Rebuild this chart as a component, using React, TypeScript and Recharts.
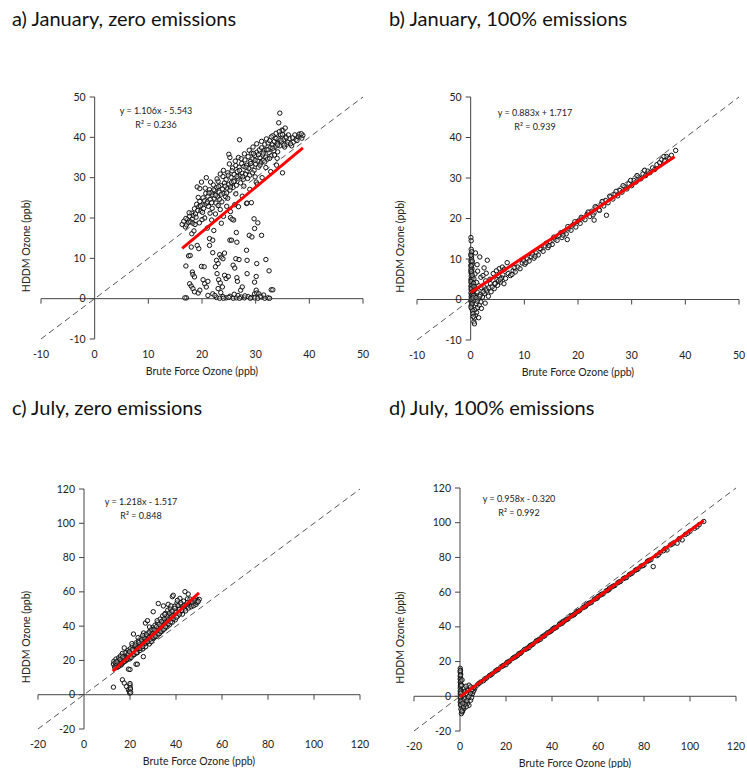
import { ScatterChart, Scatter, XAxis, YAxis, ReferenceLine } from "recharts";

type Pt = [number, number];

const titles = [
  "a) January, zero emissions",
  "b) January, 100% emissions",
  "c) July, zero emissions",
  "d) July, 100% emissions",
];

const janTicks = [-10, 0, 10, 20, 30, 40, 50];
const julTicks = [-20, 0, 20, 40, 60, 80, 100, 120];

// regression fits: slope, intercept, x range of the red line
const slopes = [1.106, 0.883, 1.218, 0.958];
const intercepts = [-5.543, 1.717, -1.517, -0.32];
const fitStart = [16.3, 0, 12.5, 0];
const fitEnd = [38.8, 38, 50, 106];
const eqLabels = ["y = 1.106x - 5.543", "y = 0.883x + 1.717", "y = 1.218x - 1.517", "y = 0.958x - 0.320"];
const r2Labels = ["R² = 0.236", "R² = 0.939", "R² = 0.848", "R² = 0.992"];

// a) January, zero emissions
const janZeroBand: Pt[] = [
  [16.3,18.4],[16.6,19.2],[16.9,17.8],[17.1,18.3],[17.3,19.6],[17.5,18.9],[17.7,20.4],[17.9,19.1],[18.1,21.2],[18.2,19.8],
  [18.4,20.6],[18.6,22.3],[18.8,21.0],[19.0,23.4],[19.1,27.7],[19.2,21.9],[19.4,22.8],[19.6,27.3],[19.6,24.1],[19.8,21.7],
  [19.9,28.9],[20.0,23.2],[20.2,25.0],[20.3,22.4],[20.5,24.3],[20.7,26.1],[20.8,30.0],[20.9,23.6],[21.1,25.4],[21.2,22.9],
  [21.4,27.0],[21.5,24.6],[21.7,26.3],[21.8,23.8],[22.0,25.7],[22.1,28.2],[22.3,24.9],[22.4,26.8],[22.6,23.7],[22.7,27.5],
  [22.9,25.2],[23.0,29.1],[23.2,26.4],[23.3,24.6],[23.5,28.0],[23.6,25.9],[23.8,27.2],[23.9,30.3],[24.1,26.1],[24.2,28.7],
  [24.4,25.3],[24.5,29.5],[24.7,27.4],[24.8,31.2],[25.0,35.8],[25.0,28.3],[25.2,35.0],[25.2,26.9],[25.4,30.1],[25.5,28.8],
  [25.7,32.4],[25.8,27.6],[26.0,30.8],[26.1,29.2],[26.3,33.0],[26.4,28.1],[26.6,31.5],[26.7,29.9],[26.9,32.6],[27.0,39.4],
  [27.1,30.4],[27.2,28.7],[27.4,33.5],[27.5,31.1],[27.7,29.6],[27.8,32.8],[28.0,34.4],[28.1,30.9],[28.3,33.1],[28.4,31.7],
  [28.6,35.2],[28.7,32.3],[28.9,30.6],[29.0,34.0],[29.2,36.1],[29.3,32.9],[29.5,37.6],[29.5,34.7],[29.7,31.8],[29.8,35.5],
  [30.0,33.4],[30.1,28.9],[30.2,36.3],[30.4,34.1],[30.5,32.6],[30.7,36.9],[30.8,35.0],[31.0,33.7],[31.1,37.4],[31.3,35.6],
  [31.4,34.2],[31.6,36.8],[31.7,38.3],[31.9,35.1],[32.0,37.0],[32.2,34.6],[32.3,38.6],[32.5,36.2],[32.6,39.2],[32.8,37.5],
  [32.9,35.4],[33.1,38.1],[33.2,40.4],[33.4,36.7],[33.5,39.0],[33.7,37.8],[33.8,41.0],[34.0,38.5],[34.1,36.4],[34.3,43.6],
  [34.3,39.6],[34.5,46.0],[34.5,37.9],[34.6,40.7],[34.8,38.9],[34.9,41.8],[35.0,31.2],[35.1,41.7],[35.2,39.4],[35.4,37.6],
  [35.6,40.2],[35.8,38.3],[36.0,38.8],[36.3,39.7],[36.7,37.9],[37.0,38.8],[37.5,39.5],[37.9,40.1],[38.3,40.3],[38.6,39.8],
  [38.8,40.5],[20.5,20.0],[21.8,19.5],[22.5,21.0],[23.4,22.1],[24.0,20.4],[24.6,22.9],[25.3,21.6],[26.1,23.3],[26.8,22.8],
  [25.9,19.5],[23.6,18.7],[21.0,17.5],[22.2,16.9],[19.5,18.8],[27.5,25.4],[28.9,27.1],[30.3,28.4],[31.2,30.0],[32.8,31.5],
  [33.9,33.1],[28.3,23.6],[28.4,23.7],[29.2,23.8],
  [17.0,19.9],[17.6,21.3],[18.3,18.7],[18.9,20.2],[19.3,25.1],[19.7,23.0],[20.1,21.4],[20.6,27.4],[21.0,24.0],[21.3,26.2],
  [21.6,28.9],[21.9,22.4],[22.2,27.0],[22.5,25.6],[22.8,29.7],[23.1,27.8],[23.4,30.9],[23.7,24.0],[24.0,31.8],[24.3,27.9],
  [24.6,26.2],[24.9,30.6],[25.1,33.4],[25.3,27.7],[25.6,31.7],[25.9,29.0],[26.2,34.1],[26.5,30.3],[26.8,35.0],[27.0,31.8],
  [27.3,34.7],[27.6,30.2],[27.9,35.9],[28.2,32.6],[28.5,29.8],[28.8,36.8],[29.1,33.5],[29.4,31.2],[29.6,36.0],[29.9,34.3],
  [30.2,38.4],[30.5,35.7],[30.8,33.1],[31.1,39.0],[31.4,36.1],[31.7,33.9],[32.0,39.6],[32.3,36.9],[32.6,34.8],[32.9,40.1],
  [33.2,37.3],[33.5,35.6],[33.8,39.7],[34.1,38.1],[34.4,41.4],[34.7,39.3],[35.0,40.7],[35.3,38.1],[35.5,42.3],[35.7,39.9],
  [36.1,40.6],[36.5,38.4],[36.9,39.9],[37.3,40.6],[37.7,39.2],[38.1,40.8],[38.5,40.9],[34.0,34.8],[31.9,32.5],[29.9,30.2],
  [27.8,27.9],[26.3,26.0],[24.8,24.9],[23.0,23.1],[21.5,21.2],[20.0,19.6],[18.7,18.4],
];
const janZeroLow: Pt[] = [
  [17.1,0.2],[16.8,0.2],[17.0,8.1],[17.5,10.6],[17.8,10.7],[18.0,12.8],[18.1,16.1],[18.5,16.8],[18.2,6.6],[18.3,6.0],
  [18.6,5.4],[17.7,3.7],[18.0,3.1],[18.3,2.5],[18.6,1.7],[19.3,1.4],[19.6,2.1],[19.1,13.2],[19.4,12.4],[19.9,8.0],
  [20.4,7.9],[20.2,4.7],[20.5,3.7],[20.8,2.9],[21.1,4.3],[21.4,14.9],[22.0,14.5],[21.4,13.2],[21.1,0.8],[22.0,11.4],
  [22.5,7.9],[22.8,6.2],[22.7,9.5],[23.0,8.7],[23.3,10.9],[23.6,10.3],[23.9,9.9],[23.1,4.7],[23.4,3.9],[23.0,2.5],
  [23.8,2.9],[24.2,11.3],[24.2,5.8],[24.5,5.0],[24.9,5.5],[25.2,14.5],[25.5,14.5],[25.3,20.1],[25.6,19.7],[25.8,8.3],
  [26.1,7.6],[26.3,9.9],[26.4,16.4],[26.5,14.0],[26.6,4.3],[26.9,9.7],[26.5,5.2],[27.2,2.1],[27.5,2.9],[28.3,12.0],
  [28.4,9.5],[28.4,6.2],[28.8,15.7],[29.3,15.3],[29.7,19.8],[29.8,17.4],[30.4,18.8],[31.1,15.7],[30.2,8.7],[30.1,5.5],
  [29.8,4.1],[30.1,2.1],[31.9,9.7],[32.5,6.9],[32.9,2.2],[33.2,2.2],[29.8,1.2],[30.2,1.4],[30.6,1.2],[22.7,0.3],
  [23.3,0.1],[23.9,0.5],[24.5,0.2],[25.2,0.6],[25.8,0.1],[26.4,0.2],[26.7,0.8],[27.3,0.4],[27.9,0.2],[28.6,0.5],
  [29.2,0.3],[29.8,0.2],[30.4,0.1],[31.1,0.4],[31.7,0.1],[32.3,0.2],[32.6,0.1],[22.0,1.2],[22.4,0.8],[24.0,0.1],
  [25.0,0.3],[27.0,0.1],[28.0,0.7],[29.0,0.1],[30.9,0.6],[23.5,1.5],[26.0,1.1],[31.5,0.9],
];

// b) January, 100% emissions
const janFullNear: Pt[] = [
  [0.05,15.3],[0.1,14.5],[0.05,11.2],[0.15,10.6],[0.1,9.8],[0.2,9.1],[0.05,8.5],[0.1,8.0],[0.25,7.6],[0.1,7.1],
  [0.05,6.7],[0.2,6.3],[0.1,5.8],[0.3,5.4],[0.05,5.0],[0.15,4.6],[0.1,4.1],[0.25,3.7],[0.05,3.3],[0.2,2.9],
  [0.1,2.4],[0.3,2.0],[0.05,1.6],[0.15,1.1],[0.1,0.7],[0.2,0.3],[0.05,-0.2],[0.3,-0.8],[0.1,-1.5],[0.2,-2.3],
  [0.15,10.2],[0.3,8.7],[0.05,7.4],[0.2,4.9],[0.35,3.1],[0.1,-0.6],[0.25,1.3],[0.05,9.4],
  [0.6,-5.5],[0.7,-4.6],[0.9,-3.9],[1.1,-3.2],[0.8,-2.5],[1.3,-2.0],[1.6,-1.4],[1.0,-1.0],[1.9,-0.6],[0.5,-0.3],
  [1.4,0.2],[2.2,0.6],[0.7,0.9],[1.8,1.2],[2.6,1.5],[1.2,1.9],[3.0,2.1],[0.9,2.6],[2.0,2.9],[2.5,3.1],
  [1.5,3.4],[3.7,3.9],[5.0,3.5],[5.6,4.3],[6.2,3.9],[1.1,4.2],[2.8,4.6],[0.6,5.1],[1.9,5.5],[4.2,6.4],
  [5.3,7.6],[5.9,8.0],[6.8,9.1],[2.5,7.8],[0.9,11.5],[1.7,10.5],[3.1,9.7],[1.3,7.0],[2.3,5.9],[0.8,6.3],
  [1.5,-4.5],[2.0,-2.2],[2.7,-0.9],[3.3,0.8],[3.8,1.9],[4.4,2.7],[4.9,4.9],[0.7,-6.0],[1.2,8.6],
  [0.1,12.4],[0.2,11.8],[0.05,10.9],[0.3,9.5],[0.1,8.3],[0.15,6.9],[0.3,6.0],[0.05,4.4],[0.2,3.5],[0.1,2.7],
  [0.35,1.8],[0.1,0.1],[0.25,-1.1],[0.05,-1.9],[0.4,-2.8],[0.45,-3.5],[0.5,-4.2],[0.55,4.0],[0.6,3.2],[0.65,2.3],
  [0.5,1.0],[0.45,0.4],[1.0,0.5],[1.2,-0.4],[1.7,0.8],[2.3,1.9],[2.9,2.6],[3.4,2.9],[4.0,3.1],[4.6,4.0],
  [5.2,4.6],[5.8,5.4],[3.6,5.0],[2.9,6.5],[4.8,7.1],[6.3,7.5],
];
const janFullLine: Pt[] = [
  [6.5,5.2],[7.0,6.4],[7.4,5.9],[7.9,7.1],[8.3,6.8],[8.8,8.0],[9.2,7.6],[9.6,9.0],[10.1,8.7],[10.5,10.0],
  [10.9,9.5],[11.3,10.6],[11.8,10.2],[12.2,11.5],[12.6,11.0],[13.1,12.4],[13.5,11.9],[13.9,13.2],[14.4,12.8],[14.8,14.1],
  [15.2,13.6],[15.7,14.9],[16.1,14.6],[16.5,15.8],[17.0,15.3],[17.4,16.7],[17.8,16.2],[18.0,14.8],[18.3,17.5],[18.7,17.1],
  [19.1,18.4],[19.6,17.9],[20.0,19.3],[20.4,18.8],[20.9,20.1],[21.3,19.7],[21.7,21.0],[22.2,20.5],[22.6,21.8],[23.0,19.6],
  [23.0,21.4],[23.5,22.7],[23.9,22.2],[24.3,23.5],[24.8,23.1],[25.2,24.4],[25.3,20.8],[25.6,23.9],[26.1,25.3],[26.5,24.8],
  [26.9,26.0],[27.4,25.6],[27.8,26.9],[28.2,26.5],[28.7,27.8],[29.1,27.3],[29.5,28.6],[30.0,28.1],[30.4,29.4],[30.8,29.0],
  [31.3,30.2],[31.7,29.8],[32.1,31.0],[32.6,30.6],[33.0,31.7],[33.4,31.3],[33.9,32.5],[34.3,32.1],[34.7,33.3],[35.2,33.8],
  [35.6,34.5],[36.1,34.2],[36.5,35.3],[37.0,34.9],[37.4,35.6],[38.2,36.8],[36.0,35.3],
  [8.1,7.9],[9.9,9.6],[11.5,11.2],[12.9,12.6],[14.1,13.9],[15.5,15.4],[16.8,16.5],[18.1,18.0],[19.4,19.2],[20.6,20.3],
  [21.9,21.6],[23.2,22.9],[24.5,24.2],[25.9,25.5],[27.1,26.7],[28.4,28.1],[29.8,29.4],[31.0,30.6],[32.4,31.9],[5.5,5.0],
  [6.0,6.1],[4.5,3.9],[7.7,6.2],[10.3,9.1],[12.0,10.7],[14.6,13.3],[17.2,15.9],[22.8,20.9],[24.0,22.0],
];

// c) July, zero emissions
const julZeroBand: Pt[] = [
  [12.8,17.9],[13.0,19.5],[13.3,16.4],[13.6,18.6],[13.9,20.8],[14.2,15.9],[14.5,17.7],[14.8,19.9],[15.1,21.6],[15.3,16.8],
  [15.6,18.9],[15.9,22.7],[16.2,17.4],[16.4,20.3],[16.7,24.1],[17.0,18.7],[17.2,21.5],[17.5,27.3],[17.7,19.6],[18.0,22.8],
  [18.3,20.4],[18.5,24.6],[18.8,21.2],[19.1,25.9],[19.3,22.0],[19.6,23.7],[19.9,20.9],[20.1,26.8],[20.4,22.5],[20.7,24.9],
  [21.0,28.6],[21.2,23.1],[21.5,35.4],[21.5,26.0],[21.8,24.3],[22.1,27.9],[22.3,25.1],[22.6,30.2],[22.9,26.4],[23.2,24.6],
  [23.4,28.8],[23.7,31.5],[24.0,27.1],[24.3,25.8],[24.5,29.7],[24.8,33.1],[25.1,28.2],[25.4,30.9],[25.6,26.7],[25.9,36.0],
  [26.2,29.4],[26.5,32.6],[26.7,41.8],[26.8,28.0],[27.0,34.1],[27.3,30.5],[27.6,43.2],[27.9,31.8],[28.1,35.7],[28.4,29.6],
  [28.7,33.9],[29.0,37.4],[29.2,31.0],[29.5,34.8],[29.8,39.2],[30.1,48.4],[30.1,32.7],[30.3,36.5],[30.6,33.4],[30.9,40.6],
  [31.2,35.3],[31.4,37.9],[31.7,34.1],[32.0,42.0],[32.3,53.2],[32.3,36.8],[32.5,39.5],[32.8,35.6],[33.1,44.1],[33.4,38.2],
  [33.6,41.3],[33.9,37.0],[34.2,46.0],[34.5,51.8],[34.5,39.8],[34.7,42.9],[35.0,38.4],[35.3,47.4],[35.6,41.1],[35.8,44.5],
  [36.1,39.6],[36.4,49.3],[36.6,52.7],[36.7,42.6],[37.0,46.1],[37.2,40.8],[37.5,50.2],[37.8,44.0],[38.1,47.5],[38.4,57.2],
  [38.4,42.3],[38.8,58.0],[38.7,49.0],[39.0,45.1],[39.4,51.6],[39.7,43.7],[40.0,47.9],[40.4,53.5],[40.8,45.9],[41.2,50.4],
  [41.7,56.2],[41.9,48.2],[42.3,52.8],[42.8,47.0],[43.3,54.6],[43.9,60.1],[43.9,50.0],[44.6,51.4],[45.0,55.9],[45.3,58.7],
  [45.7,52.6],[46.3,54.0],[46.8,52.3],[47.4,55.2],[47.9,53.4],[48.5,56.1],[48.9,54.3],[49.4,55.0],[50.1,55.6],
  [14.0,17.0],[16.0,19.2],[18.2,21.5],[20.3,24.0],[22.4,26.8],[24.6,28.6],[26.3,31.0],[28.0,33.2],[29.7,35.4],[31.5,37.2],
  [33.2,39.6],[34.9,41.5],[36.5,43.9],[38.2,46.0],[39.9,48.4],[41.5,49.7],[43.1,51.8],[19.0,23.1],[23.0,27.5],[27.2,32.1],
  [31.0,36.6],[35.5,42.4],[37.9,45.3],[25.3,29.9],[21.4,25.6],[17.3,20.9],[15.4,18.2],
  [13.5,15.6],[14.3,19.1],[14.9,16.4],[15.7,20.7],[16.3,18.3],[16.9,22.1],[17.4,19.3],[17.9,24.5],[18.6,20.5],[19.2,23.8],
  [19.8,25.1],[20.5,21.7],[21.1,26.3],[21.7,23.4],[22.2,29.0],[22.8,24.5],[23.3,26.9],[23.9,30.5],[24.4,27.0],[25.0,31.9],
  [25.5,28.1],[26.1,33.2],[26.6,30.1],[27.1,35.3],[27.7,30.9],[28.3,36.6],[28.8,32.4],[29.4,38.1],[29.9,33.6],[30.5,37.9],
  [31.0,34.2],[31.6,39.8],[32.2,35.5],[32.7,41.0],[33.3,36.9],[33.8,42.8],[34.4,38.0],[34.9,44.3],[35.4,39.6],[36.0,45.8],
  [36.6,41.4],[37.1,47.6],[37.7,42.5],[38.3,48.7],[38.9,44.3],[39.5,50.4],[40.2,45.2],[40.9,52.0],[41.5,47.0],[42.1,53.6],
  [42.6,49.1],[43.6,52.0],[44.2,48.9],[44.9,53.7],[45.5,50.6],[46.1,55.8],[46.6,51.3],[47.2,53.9],[47.7,51.9],[48.3,54.8],
  [48.7,52.7],[49.2,53.9],[49.7,54.4],[25.5,34.6],[28.5,39.5],[31.8,43.2],[35.1,46.8],[23.5,33.3],[20.8,29.8],[37.8,51.8],
  [40.6,55.0],
];
const julZeroLow: Pt[] = [
  [12.8,4.4],[16.7,8.7],[17.5,6.8],[18.5,4.8],[19.3,2.9],[19.7,1.9],[20.0,5.6],[20.1,4.2],[20.2,3.3],[19.9,0.9],
  [20.3,1.3],[20.0,6.5],[19.3,14.9],[20.0,14.7],[22.6,17.8],[23.2,17.8],[25.8,22.2],
];

// d) July, 100% emissions
const julFullNear: Pt[] = [
  [0.1,16.1],[0.2,15.0],[0.1,13.8],[0.3,12.7],[0.1,11.5],[0.2,10.3],[0.4,9.2],[0.1,8.1],[0.3,7.0],[0.2,5.8],
  [0.1,4.7],[0.4,3.5],[0.2,2.4],[0.1,1.3],[0.3,0.2],[0.2,-1.0],[0.5,-2.1],[0.1,-3.3],[0.3,-4.4],[0.6,-6.0],
  [0.6,-10.0],[1.0,-9.0],[1.2,-8.1],[1.7,-7.1],[0.8,-5.2],[3.9,-5.2],[4.6,-2.3],[3.2,-4.2],[5.4,1.5],[6.1,3.5],
  [3.9,6.4],[4.6,5.4],[2.5,-3.0],[2.0,-1.5],[1.5,0.8],[2.8,1.5],[3.5,-1.0],[4.2,0.5],[5.0,-0.8],[5.7,2.7],
  [6.5,4.8],[2.2,3.0],[3.0,4.3],[1.0,2.0],[1.3,-2.6],[2.7,-6.0],[4.8,3.2],
  [0.1,14.6],[0.2,12.1],[0.1,9.8],[0.3,8.6],[0.2,6.4],[0.1,3.0],[0.3,1.8],[0.2,-0.4],[0.4,-2.8],[0.2,-5.0],
  [0.4,-7.4],[0.8,-8.5],[1.5,-6.1],[2.2,-4.5],[3.0,-2.6],[3.8,-0.2],[4.5,1.8],[5.2,3.9],[6.0,5.1],[1.8,4.9],
  [2.6,5.8],[3.4,3.3],[1.2,-4.0],[0.7,6.3],[0.9,9.4],
];
const julFullLine: Pt[] = [
  [7.5,6.5],[9.0,8.2],[10.2,9.0],[11.5,10.5],[12.8,11.9],[14.0,12.9],[15.3,14.4],[16.6,15.4],[17.8,16.9],[19.1,17.9],
  [20.4,19.5],[21.6,20.3],[22.9,21.8],[24.2,22.7],[25.5,24.4],[26.7,25.3],[28.0,26.9],[29.3,27.6],[30.5,29.2],[31.8,30.1],
  [33.1,31.8],[34.3,32.5],[35.6,34.2],[36.9,34.9],[38.1,36.5],[39.4,37.4],[40.7,39.0],[42.0,39.8],[43.2,41.4],[44.5,42.2],
  [45.8,43.9],[47.0,44.6],[48.3,46.2],[49.6,47.0],[50.8,48.7],[52.1,49.5],[53.4,51.0],[54.6,51.8],[55.9,53.5],[57.2,54.2],
  [58.4,55.9],[59.7,56.6],[61.0,58.3],[62.2,59.0],[63.5,60.7],[64.8,61.5],[66.0,63.0],[67.3,63.8],[68.6,65.4],[69.8,66.2],
  [71.1,67.8],[72.4,68.4],[73.6,70.1],[74.9,71.0],[76.2,72.6],[77.4,73.3],[78.7,75.0],[80.0,75.6],[81.5,77.8],[83.0,78.7],
  [84.0,74.7],[85.5,81.0],[87.0,82.8],[88.5,83.9],[90.0,84.3],[91.5,87.2],[93.0,88.4],[94.4,88.2],[96.6,90.1],[98.0,93.2],
  [100.0,95.1],[102.0,96.8],[104.0,98.9],[106.0,100.7],
  [8.2,7.4],[10.8,10.0],[13.4,12.3],[16.0,15.1],[18.5,17.4],[21.0,19.8],[23.6,22.5],[26.1,24.6],[28.7,27.2],[31.2,29.6],
  [33.7,32.0],[36.3,34.5],[38.8,37.0],[41.3,39.3],[43.9,41.8],[46.4,44.2],[48.9,46.6],[51.5,49.0],[54.0,51.4],[56.6,53.8],
  [59.1,56.2],[61.6,58.8],[64.2,61.0],[66.7,63.5],[69.2,65.9],[71.8,68.3],[74.3,70.6],[76.8,73.0],[79.4,75.2],[82.2,78.3],
  [86.2,81.5],[89.2,85.0],[92.2,87.7],[95.3,90.8],[99.0,94.0],[103.0,97.6],[20.0,18.2],[25.0,23.5],[30.0,28.0],[35.0,32.9],
  [40.0,38.1],[45.0,43.0],[50.0,47.6],[55.0,52.7],[60.0,57.5],[65.0,62.3],
];

const panelPoints: Pt[][] = [
  [...janZeroBand, ...janZeroLow],
  [...janFullNear, ...janFullLine],
  [...julZeroBand, ...julZeroLow],
  [...julFullNear, ...julFullLine],
];

const FONT = "Lato, 'Open Sans', sans-serif";

// layout for each panel (pixels)
const layouts = [
  { left: 0, top: 0, w: 374, h: 384, m: { top: 97, right: 11, left: 40, bottom: 5 }, xh: 40, eqX: 156, eqY: 113.5 },
  { left: 374, top: 0, w: 373, h: 384, m: { top: 97, right: 8, left: 42, bottom: 4 }, xh: 40, eqX: 161, eqY: 116 },
  { left: 0, top: 384, w: 374, h: 384, m: { top: 105, right: 14, left: 37, bottom: 3 }, xh: 36, eqX: 141, eqY: 121 },
  { left: 374, top: 384, w: 373, h: 384, m: { top: 104, right: 11, left: 39, bottom: 1 }, xh: 36, eqX: 145, eqY: 118 },
];
const Y_AXIS_W = 1;

function Panel({ idx }: { idx: number }) {
  const L = layouts[idx];
  const ticks = idx < 2 ? janTicks : julTicks;
  const lo = ticks[0];
  const hi = ticks[ticks.length - 1];
  const plotW = L.w - L.m.left - L.m.right - Y_AXIS_W;
  const plotH = L.h - L.m.top - L.m.bottom - L.xh;
  const offX = ((0 - lo) / (hi - lo)) * plotW;
  const offY = ((0 - lo) / (hi - lo)) * plotH;
  const data = panelPoints[idx].map(([x, y]) => ({ x, y }));
  const x0 = fitStart[idx];
  const x1 = fitEnd[idx];
  const fit = [
    { x: x0, y: slopes[idx] * x0 + intercepts[idx] },
    { x: x1, y: slopes[idx] * x1 + intercepts[idx] },
  ];

  const xTick = (p: any) => {
    const zeroY = p.y - offY;
    return (
      <g>
        {p.payload.value !== 0 && (
          <line x1={p.x} x2={p.x} y1={zeroY} y2={zeroY + 5} stroke="#444" strokeWidth={1} />
        )}
        <text x={p.x} y={p.y + 18.5} textAnchor="middle" fontSize={10.5} fill="#222" fontFamily={FONT}>
          {p.payload.value}
        </text>
      </g>
    );
  };
  const yTick = (p: any) => {
    const ax = p.x + offX;
    return (
      <g>
        <line x1={ax - 5} x2={ax} y1={p.y} y2={p.y} stroke="#444" strokeWidth={1} />
        <text x={ax - 9} y={p.y + 3.5} textAnchor="end" fontSize={10.5} fill="#222" fontFamily={FONT}>
          {p.payload.value}
        </text>
      </g>
    );
  };

  return (
    <div style={{ position: "absolute", left: L.left, top: L.top, width: L.w, height: L.h }}>
      <div
        style={{
          position: "absolute",
          left: idx % 2 === 0 ? 12 : 15,
          top: idx < 2 ? 6 : 11,
          fontFamily: FONT,
          fontSize: 20,
          lineHeight: "24px",
          color: "#111",
          whiteSpace: "nowrap",
        }}
      >
        {titles[idx]}
      </div>
      <ScatterChart width={L.w} height={L.h} margin={L.m}>
        <XAxis
          type="number"
          dataKey="x"
          domain={[lo, hi]}
          ticks={ticks}
          interval={0}
          allowDataOverflow
          axisLine={false}
          tickLine={false}
          tickSize={0}
          tickMargin={0}
          height={L.xh}
          tick={xTick}
          label={{
            content: (lp: any) => (
              <text
                x={lp.viewBox.x + lp.viewBox.width / 2}
                y={lp.viewBox.y + 36}
                textAnchor="middle"
                fontSize={10.5}
                fill="#222"
                fontFamily={FONT}
              >
                Brute Force Ozone (ppb)
              </text>
            ),
          }}
        />
        <YAxis
          type="number"
          dataKey="y"
          domain={[lo, hi]}
          ticks={ticks}
          interval={0}
          allowDataOverflow
          axisLine={false}
          tickLine={false}
          tickSize={0}
          tickMargin={0}
          width={Y_AXIS_W}
          tick={yTick}
          label={{
            content: (lp: any) => {
              const cx = 26;
              const cy = lp.viewBox.y + lp.viewBox.height / 2 + 28;
              return (
                <text
                  x={cx}
                  y={cy}
                  transform={`rotate(-90, ${cx}, ${cy})`}
                  textAnchor="middle"
                  dominantBaseline="central"
                  fontSize={10.5}
                  fill="#222"
                  fontFamily={FONT}
                >
                  HDDM Ozone (ppb)
                </text>
              );
            },
          }}
        />
        <ReferenceLine x={0} stroke="#444" strokeWidth={1} />
        <ReferenceLine y={0} stroke="#444" strokeWidth={1} />
        <ReferenceLine
          segment={[{ x: lo, y: lo }, { x: hi, y: hi }]}
          stroke="#555"
          strokeWidth={1}
          strokeDasharray="6 4"
        />
        <Scatter
          data={data}
          isAnimationActive={false}
          shape={(p: any) => (
            <circle cx={p.cx} cy={p.cy} r={2.2} fill="#fff" fillOpacity={0.35} stroke="#111" strokeWidth={1} />
          )}
        />
        <Scatter
          data={fit}
          isAnimationActive={false}
          line={{ stroke: "#ff0000", strokeWidth: 3 }}
          shape={() => <g />}
        />
        <text x={L.eqX} y={L.eqY} textAnchor="middle" fontSize={9} fill="#222" fontFamily={FONT}>
          {eqLabels[idx]}
        </text>
        <text x={L.eqX} y={L.eqY + 14} textAnchor="middle" fontSize={9} fill="#222" fontFamily={FONT}>
          {r2Labels[idx]}
        </text>
      </ScatterChart>
    </div>
  );
}

export default function App() {
  return (
    <div style={{ position: "absolute", left: 0, top: 0, width: 747, height: 768, background: "#fff" }}>
      {[0, 1, 2, 3].map((i) => (
        <Panel key={i} idx={i} />
      ))}
    </div>
  );
}
